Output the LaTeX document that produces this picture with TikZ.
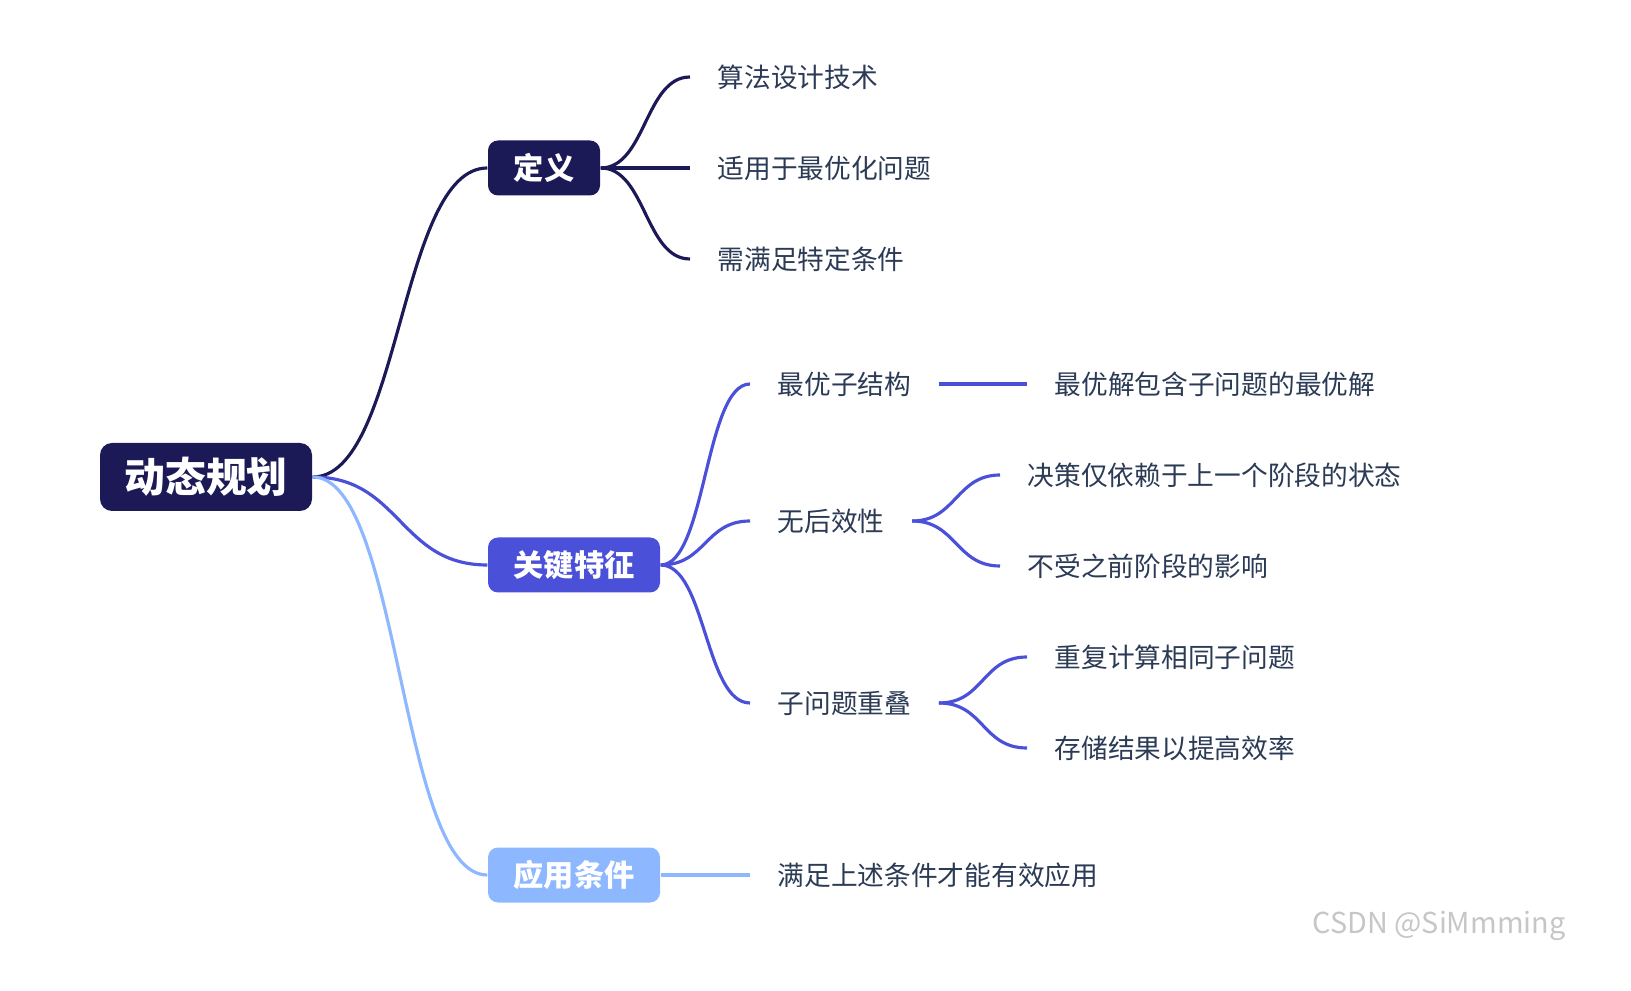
\documentclass[tikz,border=0pt]{standalone}
\usepackage{fontspec}
\setmainfont{Noto Sans CJK SC}
\usepackage{tikz}
\usetikzlibrary{positioning}

\definecolor{navy}{HTML}{1C1957}
\definecolor{indigo}{HTML}{4A50D8}
\definecolor{sky}{HTML}{8DB7FF}
\definecolor{ink}{HTML}{2B3A55}

\tikzset{
	rootbox/.style={rectangle, rounded corners=0.12cm, fill=navy, text=white, font=\fontsize{11.6pt}{14pt}\selectfont\bfseries, minimum width=2.12cm, minimum height=0.68cm, inner sep=0pt},
	topic/.style={rectangle, rounded corners=0.1cm, text=white, font=\fontsize{8.6pt}{10pt}\selectfont\bfseries, minimum height=0.55cm, inner sep=0pt},
	leaf/.style={anchor=west, inner xsep=0.27cm, inner ysep=0pt, text=ink, font=\fontsize{7.6pt}{9pt}\selectfont},
	branch/.style={line width=0.9pt},
}

\begin{document}
\begin{tikzpicture}
				\useasboundingbox (0,0) rectangle (16.31,-9.91);
				
				\node[rootbox] (dp) at (2.06,-4.77) {动态规划};
				\node[topic, fill=navy, minimum width=1.12cm] (def) at (5.44,-1.68) {定义};
				\node[topic, fill=indigo, minimum width=1.72cm] (key) at (5.74,-5.65) {关键特征};
				\node[topic, fill=sky, minimum width=1.72cm] (app) at (5.74,-8.75) {应用条件};
				
				\node[leaf] (d1) at (6.90,-0.77) {算法设计技术};
				\node[leaf] (d2) at (6.90,-1.68) {适用于最优化问题};
				\node[leaf] (d3) at (6.90,-2.59) {需满足特定条件};
				
				\node[leaf] (k1) at (7.50,-3.84) {最优子结构};
				\node[leaf] (k2) at (7.50,-5.21) {无后效性};
				\node[leaf] (k3) at (7.50,-7.03) {子问题重叠};
				\node[leaf] (k11) at (10.27,-3.84) {最优解包含子问题的最优解};
				\node[leaf] (k21) at (10.00,-4.75) {决策仅依赖于上一个阶段的状态};
				\node[leaf] (k22) at (10.00,-5.66) {不受之前阶段的影响};
				\node[leaf] (k31) at (10.27,-6.57) {重复计算相同子问题};
				\node[leaf] (k32) at (10.27,-7.48) {存储结果以提高效率};
				
				\node[leaf] (a1) at (7.50,-8.75) {满足上述条件才能有效应用};
				
				\node[anchor=west, inner sep=0pt, text=gray!45, font=\fontsize{8.2pt}{10pt}\selectfont] (mark) at (13.12,-9.26) {CSDN @SiMmming};
				
				\draw[branch, navy]  (dp.east) .. controls +(0.88,0) and +(-0.88,0) .. (def.west);
				\draw[branch, indigo]  (dp.east) .. controls +(0.88,0) and +(-0.88,0) .. (key.west);
				\draw[branch, sky]  (dp.east) .. controls +(0.88,0) and +(-0.88,0) .. (app.west);
				
				\draw[branch, navy]  (def.east) .. controls +(0.45,0) and +(-0.45,0) .. (d1.west);
				\draw[branch, navy]  (def.east) -- (d2.west);
				\draw[branch, navy]  (def.east) .. controls +(0.45,0) and +(-0.45,0) .. (d3.west);
				
				\draw[branch, indigo]  (key.east) .. controls +(0.45,0) and +(-0.45,0) .. (k1.west);
				\draw[branch, indigo]  (key.east) .. controls +(0.45,0) and +(-0.45,0) .. (k2.west);
				\draw[branch, indigo]  (key.east) .. controls +(0.45,0) and +(-0.45,0) .. (k3.west);
				\draw[branch, indigo]  (k1.east) -- (k11.west);
				\draw[branch, indigo]  (k2.east) .. controls +(0.44,0) and +(-0.44,0) .. (k21.west);
				\draw[branch, indigo]  (k2.east) .. controls +(0.44,0) and +(-0.44,0) .. (k22.west);
				\draw[branch, indigo]  (k3.east) .. controls +(0.45,0) and +(-0.45,0) .. (k31.west);
				\draw[branch, indigo]  (k3.east) .. controls +(0.45,0) and +(-0.45,0) .. (k32.west);
				
				\draw[branch, sky]  (app.east) -- (a1.west);
			\end{tikzpicture}
\end{document}
